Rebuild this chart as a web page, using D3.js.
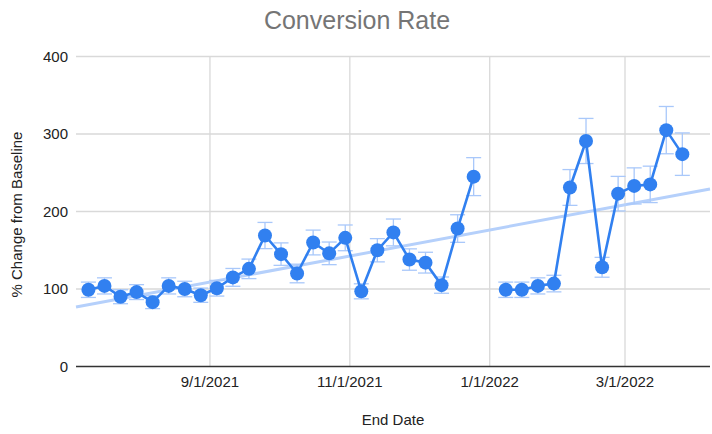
<!DOCTYPE html>
<html>
<head>
<meta charset="utf-8">
<script src="https://cdn.jsdelivr.net/npm/d3@7"></script>
<style>
  html, body { margin: 0; padding: 0; background: #fff; }
  svg { display: block; font-family: "Liberation Sans", Arial, sans-serif; }
</style>
</head>
<body>
<svg id="chart" width="712" height="434"></svg>
<script>
// ---- data ----
const endDates = [
  "2021-07-10","2021-07-17","2021-07-24","2021-07-31","2021-08-07","2021-08-14","2021-08-21","2021-08-28",
  "2021-09-04","2021-09-11","2021-09-18","2021-09-25","2021-10-02","2021-10-09","2021-10-16","2021-10-23",
  "2021-10-30","2021-11-06","2021-11-13","2021-11-20","2021-11-27","2021-12-04","2021-12-11","2021-12-18",
  "2021-12-25","2022-01-01","2022-01-08","2022-01-15","2022-01-22","2022-01-29","2022-02-05","2022-02-12",
  "2022-02-19","2022-02-26","2022-03-05","2022-03-12","2022-03-19","2022-03-26"
];
const pctChange = [
  99, 104, 90, 96, 83, 104, 100, 92,
  101, 115, 126, 169, 145, 120, 160, 146,
  166, 97, 150, 173, 138, 134, 105, 178,
  245, null, 99, 99, 104, 107, 231, 291,
  128, 223, 233, 235, 305, 274
];
const errorPercent = 10;
const xTickLabels = ["2021-09-01","2021-11-01","2022-01-01","2022-03-01"];
const yTickValues = [0, 100, 200, 300, 400];
const xDomain = ["2021-07-04T14:00:00","2022-04-07T01:40:00"];
const titleText = "Conversion Rate";
const xTitle = "End Date";
const yTitle = "% Change from Baseline";

// ---- setup ----
const parse = d3.isoParse;
const data = endDates.map((d, i) => ({ date: parse(d), value: pctChange[i] }));
const valid = data.filter(d => d.value != null);

const svg = d3.select("#chart");
const pLeft = 76, pRight = 710, pTop = 56.5, pBottom = 366.5;

const x = d3.scaleTime().domain(xDomain.map(parse)).range([pLeft, pRight]);
const y = d3.scaleLinear().domain([0, 400]).range([pBottom, pTop]);

const blue = "#3180f0";
const light = "#a9c8fa";

// gridlines horizontal
svg.append("g").selectAll("line").data(yTickValues.filter(v => v > 0)).join("line")
  .attr("x1", pLeft).attr("x2", pRight)
  .attr("y1", d => y(d)).attr("y2", d => y(d))
  .attr("stroke", "#d9d9d9").attr("stroke-width", 1.3);

// gridlines vertical
const xTicks = xTickLabels.map(parse);
svg.append("g").selectAll("line").data(xTicks).join("line")
  .attr("x1", d => x(d)).attr("x2", d => x(d))
  .attr("y1", pTop).attr("y2", pBottom)
  .attr("stroke", "#d9d9d9").attr("stroke-width", 1.3);

// baseline
svg.append("line").attr("x1", pLeft).attr("x2", pRight)
  .attr("y1", y(0)).attr("y2", y(0)).attr("stroke", "#333").attr("stroke-width", 1.3);

// y tick labels
svg.append("g").selectAll("text").data(yTickValues).join("text")
  .attr("x", 68).attr("y", d => y(d)).attr("dy", "0.36em")
  .attr("text-anchor", "end").attr("font-size", 15).attr("fill", "#222")
  .text(d => d);

// x tick labels
const fmt = d3.timeFormat("%-m/%-d/%Y");
svg.append("g").selectAll("text").data(xTicks).join("text")
  .attr("x", d => x(d)).attr("y", 386.5)
  .attr("text-anchor", "middle").attr("font-size", 15).attr("fill", "#222")
  .text(d => fmt(d));

// titles
svg.append("text").attr("x", 357).attr("y", 29).attr("text-anchor", "middle")
  .attr("font-size", 25).attr("fill", "#757575").text(titleText);
svg.append("text").attr("x", (pLeft + pRight) / 2).attr("y", 425).attr("text-anchor", "middle")
  .attr("font-size", 15).attr("fill", "#222").text(xTitle);
svg.append("text").attr("transform", `translate(21.5,${(pTop + pBottom) / 2 + 3}) rotate(-90)`)
  .attr("text-anchor", "middle").attr("font-size", 15).attr("fill", "#222").text(yTitle);

// trendline (least squares on valid points)
const t0 = valid[0].date.getTime();
const xs = valid.map(d => (d.date.getTime() - t0) / 864e5);
const ys = valid.map(d => d.value);
const mx = d3.mean(xs), my = d3.mean(ys);
const slope = d3.sum(xs, (v, i) => (v - mx) * (ys[i] - my)) / d3.sum(xs, v => (v - mx) ** 2);
const intercept = my - slope * mx;
const trendAt = dt => intercept + slope * ((dt.getTime() - t0) / 864e5);
const [d0, d1] = x.domain();
svg.append("line")
  .attr("x1", x(d0)).attr("y1", y(trendAt(d0)))
  .attr("x2", x(d1)).attr("y2", y(trendAt(d1)))
  .attr("stroke", "#b5d0fb").attr("stroke-width", 3);

// error bars
const eb = svg.append("g").attr("stroke", light).attr("stroke-width", 1.3).attr("fill", "none");
valid.forEach(d => {
  const lo = d.value * (1 - errorPercent / 100), hi = d.value * (1 + errorPercent / 100);
  const cx = x(d.date);
  eb.append("line").attr("x1", cx).attr("x2", cx).attr("y1", y(lo)).attr("y2", y(hi));
  eb.append("line").attr("x1", cx - 7.5).attr("x2", cx + 7.5).attr("y1", y(lo)).attr("y2", y(lo));
  eb.append("line").attr("x1", cx - 7.5).attr("x2", cx + 7.5).attr("y1", y(hi)).attr("y2", y(hi));
});

// line
const line = d3.line().defined(d => d.value != null).x(d => x(d.date)).y(d => y(d.value));
svg.append("path").datum(data).attr("d", line)
  .attr("fill", "none").attr("stroke", blue).attr("stroke-width", 2.6).attr("stroke-linejoin", "round");

// points
svg.append("g").selectAll("circle").data(valid).join("circle")
  .attr("cx", d => x(d.date)).attr("cy", d => y(d.value)).attr("r", 7)
  .attr("fill", blue);
</script>
</body>
</html>
